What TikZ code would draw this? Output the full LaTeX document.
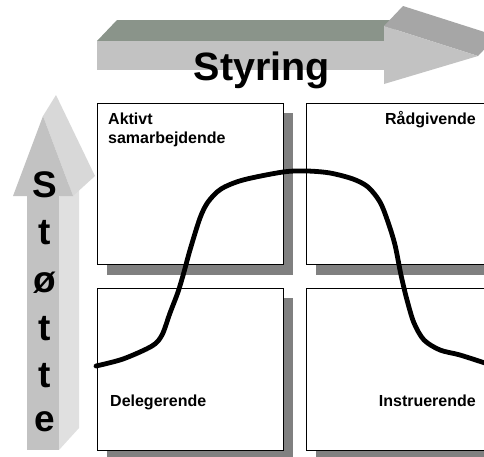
\documentclass[tikz,border=0pt]{standalone}
\usepackage{fontspec}
\setmainfont{Liberation Sans}
\begin{document}
\begin{tikzpicture}[x=1pt,y=-1pt,
  shadowbox/.style={fill=shadowgray,draw=none},
  quadbox/.style={fill=white,draw=black,line width=0.8pt},
  lbl/.style={inner sep=0pt,font=\fontsize{16}{19}\selectfont\bfseries},
  bigletter/.style={inner sep=0pt,font=\fontsize{37}{40}\selectfont\bfseries},
  curveline/.style={line width=4.8pt,line cap=round,line join=round}]
\definecolor{shadowgray}{HTML}{808080}
\definecolor{frontgray}{HTML}{C2C2C2}
\definecolor{topgreen}{HTML}{8A948A}
\definecolor{headtop}{HTML}{A6A6A6}
\definecolor{sidegray}{HTML}{E0E0E0}
\definecolor{headside}{HTML}{D8D8D8}
\useasboundingbox (0,0) rectangle (484,456);
\clip (0,0) rectangle (484,456);
% horizontal arrow (Styring)
\fill[topgreen] (97,41) -- (117,20) -- (404,20) -- (384,41) -- cycle;
\fill[frontgray] (97,41) rectangle (384,70);
\fill[headtop] (384,26) -- (403,6) -- (497,36) -- (478,56) -- cycle;
\fill[frontgray] (384,26) -- (478,56) -- (384,84) -- cycle;
\node[bigletter,font=\fontsize{39.5}{40}\selectfont\bfseries,anchor=base] (styring) at (262,80) {Styring};
% vertical arrow (Stotte)
\fill[sidegray] (59,197) -- (79,175) -- (79,428) -- (59,450) -- cycle;
\fill[headside] (43,116) -- (56,95) -- (95,176) -- (73,196) -- cycle;
\fill[frontgray] (27,196) rectangle (59,450);
\fill[frontgray] (13,196) -- (43,116) -- (73,196) -- cycle;
\node[bigletter,anchor=base] (l1) at (45,197) {S};
\node[bigletter,anchor=base] (l2) at (45,244) {t};
\node[bigletter,anchor=base] (l3) at (45,292) {ø};
\node[bigletter,anchor=base] (l4) at (45,340) {t};
\node[bigletter,anchor=base] (l5) at (45,387) {t};
\node[bigletter,anchor=base] (l6) at (45,431) {e};
% shadows
\fill[shadowbox] (107,113) rectangle (293,275);
\fill[shadowbox] (316,113) rectangle (502,275);
\fill[shadowbox] (107,298) rectangle (293,461);
\fill[shadowbox] (316,298) rectangle (502,461);
% boxes
\draw[quadbox] (97,103) rectangle (283,264);
\draw[quadbox] (306,103) rectangle (492,264);
\draw[quadbox] (97,288) rectangle (283,450);
\draw[quadbox] (306,288) rectangle (492,450);
% curve
\draw[curveline] plot[smooth,tension=0.5] coordinates {
 (96,366) (123,359) (152,346) (162,335) (170,313) (178,292) (184,272)
 (190,250) (200,218) (208,202) (221,189) (243,180) (283,172) (307,171)
 (330,173) (353,179) (368,187) (380,202) (388,222) (395,245) (401,275)
 (407,300) (414,323) (424,340) (440,350) (460,355) (488,364)};
% labels
\node[lbl,anchor=base west] (aktiv) at (108,124) {Aktivt};
\node[lbl,anchor=base west] (samarb) at (108,143) {samarbejdende};
\node[lbl,anchor=base east] (raad) at (476,124) {Rådgivende};
\node[lbl,anchor=base west] (deleg) at (110,406) {Delegerende};
\node[lbl,anchor=base east] (instr) at (476,406) {Instruerende};
\end{tikzpicture}
\end{document}
